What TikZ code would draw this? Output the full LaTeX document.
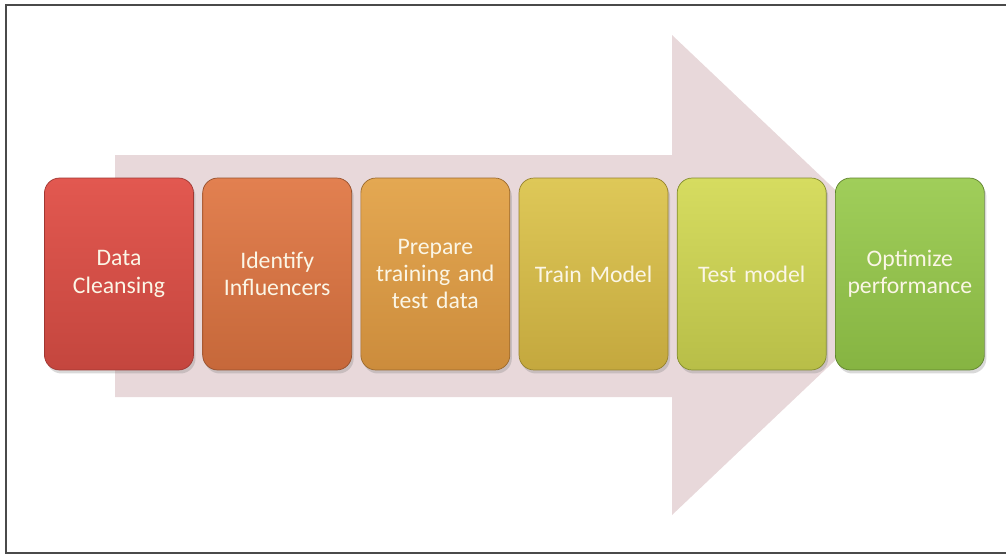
\documentclass[tikz,border=0pt]{standalone}
\usepackage{fontspec}
\setmainfont{Carlito}
\usetikzlibrary{positioning,shadows}

\definecolor{framegrey}{HTML}{4A4A4A}
\definecolor{arrowpink}{HTML}{E8D8DA}
\definecolor{labelcream}{HTML}{FBF6E6}

\begin{document}
\begin{tikzpicture}[x=0.02cm, y=-0.02cm]
    \tikzstyle{stage}=[rectangle, rounded corners=3mm, minimum width=2.98cm, minimum height=3.84cm,
                       text width=2.6cm, align=center, text=labelcream, line width=0.4pt,
                       font=\fontsize{13.5}{15.5}\selectfont,
                       drop shadow={opacity=0.3, shadow xshift=0.4mm, shadow yshift=-0.7mm},
                       node distance=1.7mm]

      \useasboundingbox (0,0) rectangle (1006,555);
      \draw[framegrey, line width=1.1pt] (1006,5) -- (6,5) -- (6,553) -- (1006,553);

      % big background arrow
      \fill[arrowpink] (115,155) -- (672,155) -- (672,35) -- (925,275)
                       -- (672,515) -- (672,397) -- (115,397) -- cycle;

      \node[stage, draw={rgb,255:red,160;green,55;blue,50}, top color={rgb,255:red,226;green,88;blue,80}, bottom color={rgb,255:red,196;green,70;blue,62}]
           (data) at (119,274) {Data\\Cleansing};
      \node[stage, draw={rgb,255:red,150;green,80;blue,45}, top color={rgb,255:red,226;green,128;blue,80}, bottom color={rgb,255:red,198;green,104;blue,58}]
           (influencers) [right=of data] {Identify\\Influencers};
      \node[stage, draw={rgb,255:red,155;green,105;blue,45}, top color={rgb,255:red,228;green,168;blue,82}, bottom color={rgb,255:red,204;green,140;blue,60}]
           (prepare) [right=of influencers] {Prepare\\training and\\test data};
      \node[stage, draw={rgb,255:red,150;green,130;blue,45}, top color={rgb,255:red,222;green,200;blue,88}, bottom color={rgb,255:red,196;green,168;blue,62}]
           (train) [right=of prepare] {Train Model};
      \node[stage, draw={rgb,255:red,130;green,140;blue,45}, top color={rgb,255:red,214;green,220;blue,96}, bottom color={rgb,255:red,184;green,190;blue,72}]
           (test) [right=of train] {Test model};
      \node[stage, draw={rgb,255:red,95;green,130;blue,45}, top color={rgb,255:red,160;green,206;blue,90}, bottom color={rgb,255:red,134;green,180;blue,66}]
           (optimize) [right=of test] {Optimize\\performance};
    \end{tikzpicture}
\end{document}
